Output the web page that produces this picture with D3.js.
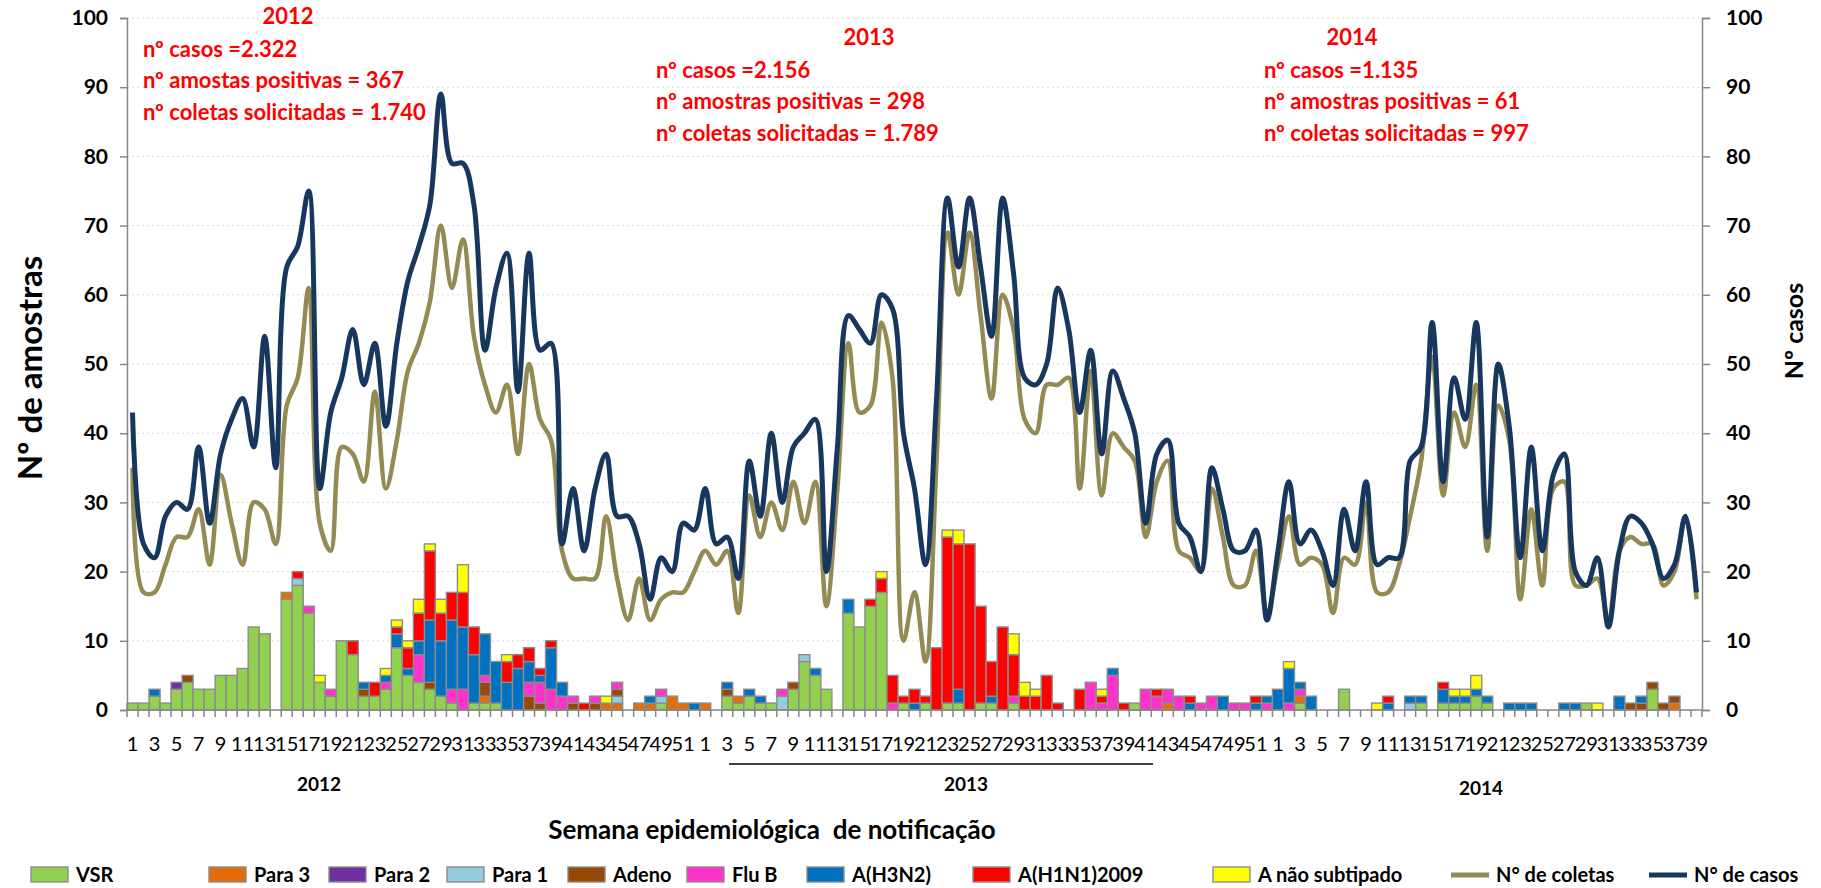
<!DOCTYPE html>
<html><head><meta charset="utf-8">
<script src="https://cdn.jsdelivr.net/npm/d3@7"></script>
<style>
body{margin:0;background:#fff;}
svg{display:block;font-family:Lato,'Open Sans',sans-serif;}
</style>
</head><body>
<svg id="chart" width="1821" height="888"></svg>
<script>
// ---------- DATA ----------
const years = ["2012","2013","2014"];
const weeks = [
 1,2,3,4,5,6,7,8,9,10,11,12,13,14,15,16,17,18,19,20,21,22,23,24,25,26,27,28,29,30,31,32,33,34,35,36,37,38,39,40,41,42,43,44,45,46,47,48,49,50,51,52,
 1,2,3,4,5,6,7,8,9,10,11,12,13,14,15,16,17,18,19,20,21,22,23,24,25,26,27,28,29,30,31,32,33,34,35,36,37,38,39,40,41,42,43,44,45,46,47,48,49,50,51,52,
 1,2,3,4,5,6,7,8,9,10,11,12,13,14,15,16,17,18,19,20,21,22,23,24,25,26,27,28,29,30,31,32,33,34,35,36,37,38,39
];

const vsr = [
 1,1,2,1,3,4,3,3,5,5,6,12,11, 0,16,18,14,4,2,10,8,2,2,3,9,5, 4,3,2,1,0,1,1,1,0,0,0,0,0, 0,0,0,0,0,0,0,0,0,1,0,0,0,
 0,0,2,1,2,1,1,0,3,7,5,3,0, 14,12,15,17,0,1,0,1,0,1,1,0,1, 1,0,1,0,0,0,0,0,0,0,0,0,0, 1,0,0,0,0,0,0,0,0,0,0,0,0,
 0,0,1,0,0,0,3,0,0,0,0,0,0, 1,0,1,1,1,2,1,0,0,0,0,0,0, 0,0,1,0,0,0,0,0,3,0,0,0,0
];
const para3 = [
 0,0,0,0,0,0,0,0,0,0,0,0,0, 0,1,0,0,0,0,0,0,0,0,0,0,0, 0,0,0,0,0,0,1,0,0,0,0,0,0, 0,0,0,0,1,1,0,1,1,0,2,1,0,
 1,0,0,1,0,0,0,0,0,0,0,0,0, 0,0,0,0,0,0,0,0,0,0,0,0,0, 0,0,0,0,0,0,0,0,0,0,0,0,0, 0,0,0,1,0,0,0,0,0,0,0,0,0,
 0,0,1,0,0,0,0,0,0,0,0,0,0, 0,0,0,0,0,0,0,0,0,0,0,0,0, 0,0,0,0,0,0,0,0,0,0,1,0,0
];
const para2 = [
 0,0,0,0,1,0,0,0,0,0,0,0,0, 0,0,0,0,0,0,0,0,0,0,0,0,0, 0,0,0,0,0,0,0,0,0,0,0,0,0, 0,0,0,0,0,0,0,0,0,0,0,0,0,
 0,0,0,0,0,0,0,0,0,0,0,0,0, 0,0,0,0,0,0,0,0,0,0,0,0,0, 0,0,0,0,0,0,0,0,0,0,0,0,0, 0,0,0,0,0,0,0,0,0,0,0,0,0,
 0,0,0,0,0,0,0,0,0,0,0,0,0, 0,0,0,0,0,0,0,0,0,0,0,0,0, 0,0,0,0,0,0,0,0,0,0,0,0,0
];
const para1 = [
 0,0,0,0,0,0,0,0,0,0,0,0,0, 0,0,1,0,0,0,0,0,0,0,0,0,0, 0,0,0,0,0,0,0,0,0,0,0,0,0, 0,0,0,0,0,1,0,0,0,1,0,0,0,
 0,0,0,0,0,0,0,2,0,1,0,0,0, 0,0,0,0,0,0,0,0,0,0,0,0,0, 0,0,0,0,0,0,0,0,0,0,0,0,0, 0,0,0,0,0,0,0,0,0,0,0,0,0,
 0,0,0,0,0,0,0,0,0,0,0,0,1, 0,0,0,0,0,0,0,0,0,0,0,0,0, 0,0,0,0,0,0,0,0,0,0,0,0,0
];
const adeno = [
 0,0,0,0,0,1,0,0,0,0,0,0,0, 0,0,0,0,0,0,0,0,1,0,0,0,0, 0,1,0,0,0,0,2,0,0,0,2,1,0, 0,1,0,1,0,1,0,0,0,0,0,0,0,
 0,0,1,0,0,0,0,0,1,0,0,0,0, 0,0,0,0,0,0,0,0,0,0,0,0,0, 0,0,0,0,0,0,0,0,0,0,0,0,0, 0,0,0,0,0,0,0,0,0,0,0,0,0,
 0,0,0,0,0,0,0,0,0,0,0,0,0, 0,0,0,0,0,0,0,0,0,0,0,0,0, 0,0,0,0,0,0,1,1,1,1,1,0,0
];
const fluB = [
 0,0,0,0,0,0,0,0,0,0,0,0,0, 0,0,0,1,0,1,0,0,0,0,1,0,0, 4,0,0,2,3,0,1,0,0,0,2,3,3, 2,1,0,1,0,1,0,0,0,1,0,0,0,
 0,0,0,0,0,0,0,1,0,0,0,0,0, 0,0,0,0,1,0,0,0,0,0,0,0,0, 0,0,1,0,0,0,0,0,0,4,1,5,0, 0,3,2,2,2,0,1,2,0,1,1,0,1,
 0,1,1,0,0,0,0,0,0,0,0,0,0, 0,0,0,0,0,0,0,0,0,0,0,0,0, 0,0,0,0,0,0,0,0,0,0,0,0,0
];
const h3n2 = [
 0,0,1,0,0,0,0,0,0,0,0,0,0, 0,0,0,0,0,0,0,0,1,0,1,2,1, 2,9,8,10,9,7,6,6,4,6,3,1,6, 2,0,0,0,0,0,0,0,1,0,0,0,1,
 0,0,1,0,1,1,0,0,0,0,1,0,0, 2,0,0,0,0,0,1,0,0,0,2,0,0, 1,0,0,0,0,0,0,0,0,0,0,1,0, 0,0,0,0,0,1,0,0,2,0,0,1,1,
 3,5,1,2,0,0,0,0,0,0,1,0,1, 1,0,2,1,1,1,1,0,1,1,1,0,0, 1,1,0,0,0,2,0,1,0,0,0,0,0
];
const h1n1 = [
 0,0,0,0,0,0,0,0,0,0,0,0,0, 0,0,1,0,0,0,0,2,0,2,0,1,3, 4,10,4,4,5,4,0,0,3,2,2,1,1, 0,0,1,0,0,0,0,0,0,0,0,0,0,
 0,0,0,0,0,0,0,0,0,0,0,0,0, 0,0,1,2,4,1,2,1,9,24,21,24,14, 5,12,6,2,2,5,1,0,3,0,1,0,1, 0,0,1,0,0,1,0,0,0,0,0,1,0,
 0,0,0,0,0,0,0,0,0,0,1,0,0, 0,0,1,0,0,0,0,0,0,0,0,0,0, 0,0,0,0,0,0,0,0,0,0,0,0,0
];
const naoSubtipado = [
 0,0,0,0,0,0,0,0,0,0,0,0,0, 0,0,0,0,1,0,0,0,0,0,1,1,1, 2,1,2,0,4,0,0,0,1,0,0,0,0, 0,0,0,0,1,0,0,0,0,0,0,0,0,
 0,0,0,0,0,0,0,0,0,0,0,0,0, 0,0,0,1,0,0,0,0,0,1,2,0,0, 0,0,3,2,1,0,0,0,0,0,1,0,0, 0,0,0,0,0,0,0,0,0,0,0,0,0,
 0,1,0,0,0,0,0,0,0,1,0,0,0, 0,0,0,1,1,2,0,0,0,0,0,0,0, 0,0,0,1,0,0,0,0,0,0,0,0,0
];
const coletas = [
 35,17,17,21,25,25,29,21,34,27,21,30,29, 24,44,48,61,27,23,38,37,33,46,32,39,49, 53,59,70,61,68,54,47,43,47,37,50,42,39, 23,19,19,19,28,19,13,19,13,16,17,17,20,
 23,21,23,14,31,25,30,26,33,27,33,15,32, 53,43,44,56,48,10,17,7,36,69,60,69,57, 45,60,55,42,40,47,47,48,32,49,31,40,38, 36,25,33,36,23,22,20,32,25,18,18,23,14,
 21,28,21,22,21,14,22,21,30,17,17,21,28, 36,51,31,43,38,47,23,44,39,16,29,18,32, 33,18,18,19,13,23,25,24,24,18,20,28,16
];
const casos = [
 43,24,22,28,30,29,38,27,37,42,45,38,54, 35,64,67,75,32,43,48,55,47,53,41,53,62, 67,73,89,79,79,73,52,61,66,46,66,52,53, 24,32,23,32,37,28,28,24,16,22,20,27,26,
 32,24,25,19,36,28,40,30,38,40,42,20,38, 57,55,53,60,58,40,32,21,45,74,64,74,64, 54,74,63,48,47,50,61,55,43,52,37,49,45, 40,27,37,39,27,25,20,35,29,23,23,26,13,
 23,33,24,26,23,18,29,23,33,21,22,22,36, 38,56,33,48,42,56,25,50,41,22,38,23,34, 37,20,18,22,12,23,28,27,24,19,21,28,17
];
const seriesNames = ["VSR","Para 3","Para 2","Para 1","Adeno","Flu B","A(H3N2)","A(H1N1)2009","A não subtipado"];
const lineNames = ["N° de coletas","N° de casos"];
const yTicks = [0,10,20,30,40,50,60,70,80,90,100];
const annoCasos = ["nº casos =2.322","nº casos =2.156","nº casos =1.135"];
const annoPositivas = ["nº amostas positivas = 367","nº amostras positivas = 298","nº amostras positivas = 61"];
const annoColetas = ["nº coletas solicitadas = 1.740","nº coletas solicitadas = 1.789","nº coletas solicitadas = 997"];

// ---------- STYLE / LAYOUT ----------
const colors = ["#92D050","#E46C0A","#7030A0","#93CDDD","#974806","#FF33CC","#0070C0","#FF0000","#FFFF00"];
const lineColors = ["#948A54","#17375E"];
const L=127, R=1702, T=18, B=710;
const svg = d3.select("#chart");
const idx = d3.range(weeks.length);
const x = d3.scaleBand().domain(idx).range([L,R]).padding(0);
const y = d3.scaleLinear().domain([0,100]).range([B,T]);
const cx = i => x(i) + x.bandwidth()/2;

// gridlines
svg.append("g").selectAll("line").data(yTicks.filter(d=>d>0)).join("line")
  .attr("x1",L).attr("x2",R).attr("y1",d=>y(d)).attr("y2",d=>y(d))
  .attr("stroke","#d9d9d9").attr("stroke-width",1).attr("stroke-dasharray","2,3");

// stacked bars
const arrs = [vsr,para3,para2,para1,adeno,fluB,h3n2,h1n1,naoSubtipado];
const table = idx.map(i=>{const o={i}; seriesNames.forEach((k,j)=>o[k]=arrs[j][i]); return o;});
const stacked = d3.stack().keys(seriesNames)(table);
svg.append("g").selectAll("g").data(stacked).join("g").attr("fill",(d,j)=>colors[j])
 .selectAll("rect").data(d=>d.filter(p=>p[1]>p[0])).join("rect")
 .attr("x",p=>x(p.data.i)).attr("width",x.bandwidth())
 .attr("y",p=>y(p[1])).attr("height",p=>y(p[0])-y(p[1]))
 .attr("stroke","#8c8c8c").attr("stroke-width",1.4);

// lines
const lineGen = d3.line().x((d,i)=>cx(i)).y(d=>y(d)).curve(d3.curveCatmullRom.alpha(0.5));
[coletas,casos].forEach((arr,k)=>{
  svg.append("path").datum(arr).attr("d",lineGen).attr("fill","none")
    .attr("stroke",lineColors[k]).attr("stroke-width",k?5:4.5).attr("stroke-linejoin","round");
});

// axes
const axisColor="#868686";
const gl = svg.append("g").attr("transform",`translate(${L},0)`)
  .call(d3.axisLeft(y).tickValues(yTicks).tickSize(7).tickPadding(12));
const gr = svg.append("g").attr("transform",`translate(${R},0)`)
  .call(d3.axisRight(y).tickValues(yTicks).tickSize(8).tickPadding(16));
[gl,gr].forEach(g=>{
  g.select(".domain").attr("stroke",axisColor).attr("stroke-width",1.5);
  g.selectAll(".tick line").attr("stroke",axisColor).attr("stroke-width",1.5);
  g.selectAll(".tick text").attr("font-size",21).attr("font-weight","bold").attr("fill","#000")
   .attr("font-family","Lato, sans-serif");
});
// x axis
svg.append("line").attr("x1",L).attr("x2",R).attr("y1",B).attr("y2",B).attr("stroke",axisColor).attr("stroke-width",1.5);
svg.append("g").selectAll("line").data(d3.range(weeks.length+1)).join("line")
  .attr("x1",i=>L+i*x.step()).attr("x2",i=>L+i*x.step()).attr("y1",B).attr("y2",B+7)
  .attr("stroke",axisColor).attr("stroke-width",1.5);
svg.append("g").selectAll("text").data(idx.filter(i=>i%2===0)).join("text")
  .attr("x",cx).attr("y",751).attr("text-anchor","middle").attr("font-size",20).attr("fill","#000")
  .text(i=>weeks[i]);

// year labels under axis
const yearLabelX = [319, 966, 1481];
const yearLabelY = [791, 791, 795];
svg.append("g").selectAll("text").data(years).join("text")
  .attr("x",(d,k)=>yearLabelX[k]).attr("y",(d,k)=>yearLabelY[k]).attr("text-anchor","middle")
  .attr("font-size",19).attr("font-weight","bold").text(d=>d);
svg.append("line").attr("x1",729).attr("x2",1153).attr("y1",764).attr("y2",764).attr("stroke","#000").attr("stroke-width",1.5);

// axis titles
svg.append("text").attr("x",772).attr("y",839).attr("text-anchor","middle").attr("font-size",26)
  .attr("font-weight","bold").attr("xml:space","preserve").text("Semana epidemiológica  de notificação");
svg.append("text").attr("transform","translate(42,368) rotate(-90)").attr("text-anchor","middle")
  .attr("font-size",33).attr("font-weight","bold").text("Nº de amostras");
svg.append("text").attr("transform","translate(1803,331) rotate(-90)").attr("text-anchor","middle")
  .attr("font-size",25).attr("font-weight","bold").text("Nº casos");

// annotations
const annoX = [143,656,1264];
const annoTop = [24,45,45];
const yearX = [288,869,1352];
years.forEach((t,k)=>{
  const g = svg.append("g").attr("fill","#FF0000").attr("font-weight","bold").attr("font-size",22);
  g.append("text").attr("x",yearX[k]).attr("y",annoTop[k]).attr("text-anchor","middle").text(t);
  g.append("text").attr("x",annoX[k]).attr("y",annoTop[k]+33).text(annoCasos[k]);
  g.append("text").attr("x",annoX[k]).attr("y",annoTop[k]+64).text(annoPositivas[k]);
  g.append("text").attr("x",annoX[k]).attr("y",annoTop[k]+96).text(annoColetas[k]);
});

// legend
const legY = 875;
const legSwX = [31,209,329,447,568,687,807,973,1213];
const leg = svg.append("g").attr("font-size",20).attr("font-weight","bold");
seriesNames.forEach((n,j)=>{
  leg.append("rect").attr("x",legSwX[j]).attr("y",legY-8).attr("width",37).attr("height",15)
    .attr("fill",colors[j]).attr("stroke","#8c8c8c").attr("stroke-width",1.4);
  leg.append("text").attr("x",legSwX[j]+45).attr("y",legY+7).text(n);
});
const legLineX = [1451,1649];
lineNames.forEach((n,k)=>{
  leg.append("line").attr("x1",legLineX[k]).attr("x2",legLineX[k]+38).attr("y1",legY).attr("y2",legY)
    .attr("stroke",lineColors[k]).attr("stroke-width",5);
  leg.append("text").attr("x",legLineX[k]+45).attr("y",legY+7).text(n);
});
</script>
</body></html>
